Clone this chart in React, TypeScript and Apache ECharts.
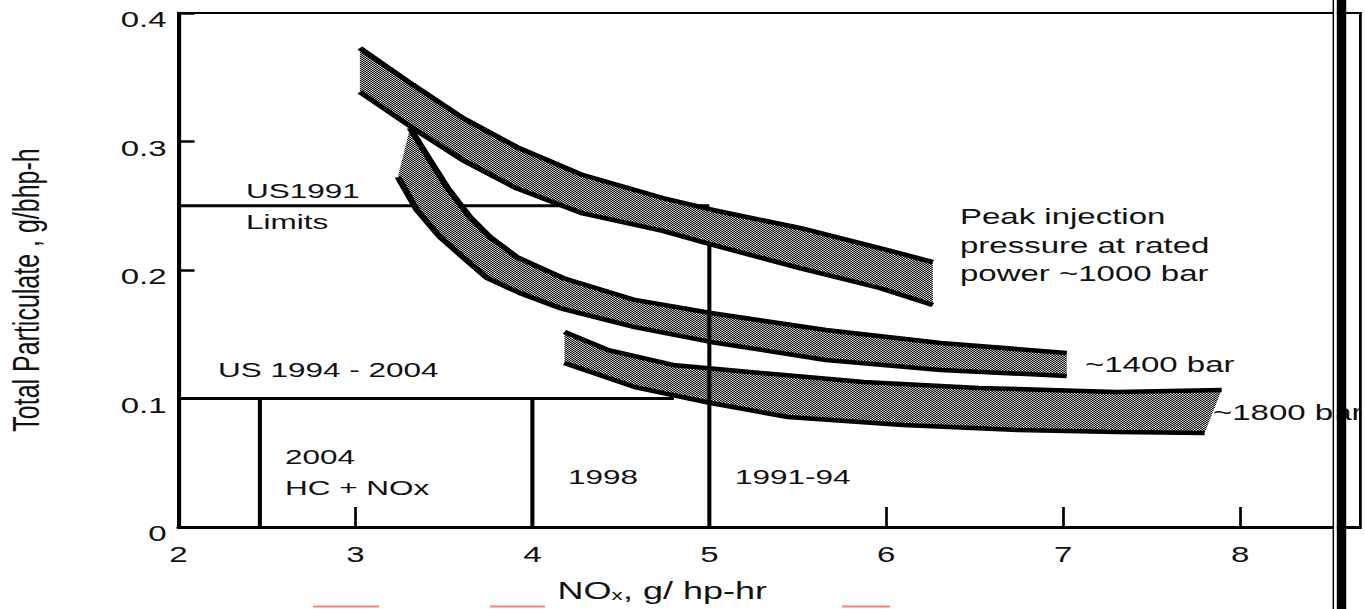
import React, { useEffect, useRef } from "react";
import * as echarts from "echarts";

// The reference picture is stretched horizontally; the chart is drawn in a
// narrower box and stretched back with CSS.
const S = 1.5;
const W = 1365 / S;
const H = 609;
const FONT = "'Liberation Sans', Arial, Helvetica, sans-serif";

const xTicks = [2, 3, 4, 5, 6, 7, 8];
const yTicks = [0, 0.1, 0.2, 0.3, 0.4];

// ~1000 bar band
const band1000Upper: number[][] = [
  [3.025, 0.3728], [3.325, 0.344], [3.607, 0.3183], [3.912, 0.2957], [4.285, 0.2739],
  [4.737, 0.256], [5.02, 0.2467], [5.511, 0.2327], [5.963, 0.2171], [6.263, 0.2062],
];
const band1000Lower: number[][] = [
  [3.025, 0.3385], [3.325, 0.3105], [3.607, 0.2855], [3.912, 0.2635], [4.285, 0.244],
  [4.737, 0.2305], [5.02, 0.2195], [5.511, 0.2015], [5.963, 0.186], [6.263, 0.1728],
];
// ~1400 bar band
const band1400Upper: number[][] = [
  [3.308, 0.3105], [3.421, 0.2856], [3.517, 0.2646], [3.647, 0.2412], [3.76, 0.2257],
  [3.912, 0.2101], [4.172, 0.1938], [4.579, 0.1767], [5.008, 0.1665], [5.658, 0.1533],
  [6.308, 0.1432], [7.02, 0.1354],
];
const band1400Lower: number[][] = [
  [3.24, 0.2724], [3.347, 0.2467], [3.477, 0.2257], [3.607, 0.2101], [3.743, 0.1938],
  [3.929, 0.1821], [4.155, 0.1704], [4.579, 0.1556], [5.008, 0.144], [5.658, 0.13],
  [6.308, 0.1222], [7.02, 0.1175],
];
// ~1800 bar band
const band1800Upper: number[][] = [
  [4.181, 0.1518], [4.429, 0.1377], [4.794, 0.1261], [5.229, 0.1206], [5.873, 0.1128],
  [6.523, 0.1082], [7.302, 0.1051], [7.895, 0.1066],
];
const band1800Lower: number[][] = [
  [4.181, 0.1276], [4.579, 0.1089], [5.008, 0.0965], [5.444, 0.0856], [6.093, 0.0794],
  [6.743, 0.0755], [7.302, 0.0739], [7.799, 0.0732],
];

// emission limit lines
const limitUS1991: number[][] = [[2, 0.25], [5, 0.25]];
const limitUS1994: number[][] = [[2, 0.1], [4.8, 0.1]];
const nox2004: number[][] = [[2.46, 0], [2.46, 0.1]];
const nox1998: number[][] = [[4, 0], [4, 0.1]];
const nox1991: number[][] = [[5, 0], [5, 0.219]];

function makePattern() {
  const c = document.createElement("canvas");
  c.width = 2;
  c.height = 2;
  const ctx = c.getContext("2d");
  if (ctx) {
    ctx.fillStyle = "#d4d4d4";
    ctx.fillRect(0, 0, 2, 2);
    ctx.fillStyle = "#000000";
    ctx.fillRect(0, 0, 1, 1);
    ctx.fillRect(1, 1, 1, 1);
  }
  return { image: c, repeat: "repeat" };
}

function bandFill(name: string, upper: number[][], lower: number[][], pattern: any) {
  const poly = upper.concat(lower.slice().reverse());
  return {
    type: "custom",
    name,
    data: poly,
    encode: { x: 0, y: 1 },
    z: 3,
    silent: true,
    renderItem: (params: any, api: any) => {
      if (params.dataIndex !== 0) return null;
      const pts = poly.map((p) => api.coord(p));
      return {
        type: "polygon",
        shape: { points: pts },
        style: { fill: pattern, stroke: null, lineWidth: 0 },
      };
    },
  };
}

function edge(data: number[][], width = 4.5, z = 4) {
  return {
    type: "line",
    data,
    symbol: "none",
    silent: true,
    z,
    lineStyle: { color: "#000", width },
  };
}

function txt(text: string, x: number, y: number, size = 22, extra: any = {}) {
  return {
    type: "text",
    x,
    y,
    z: 50,
    silent: true,
    style: {
      text,
      fontSize: size,
      fontFamily: FONT,
      fill: "#111",
      align: "left",
      verticalAlign: "middle",
      textAlign: "left",
      textVerticalAlign: "middle",
      ...extra,
    },
  };
}

export default function App() {
  const ref = useRef<HTMLDivElement>(null);
  useEffect(() => {
    if (!ref.current) return;
    const chart = echarts.init(ref.current, null, { renderer: "svg" });
    const pattern = makePattern();
    const o = (px: number) => px / S; // outer px -> inner px
    chart.setOption({
      animation: false,
      backgroundColor: "#fff",
      grid: {
        left: o(178.5),
        right: W - o(1360.5),
        top: 13,
        bottom: H - 527,
        show: true,
        borderColor: "#000",
        borderWidth: 2,
        containLabel: false,
        outerBoundsMode: "none",
      },
      xAxis: {
        type: "value",
        min: 2,
        max: 8.68,
        interval: 1,
        axisLine: { show: true, onZero: false, lineStyle: { color: "#000", width: 3 } },
        axisTick: {
          show: true,
          inside: true,
          length: 20,
          customValues: xTicks,
          lineStyle: { color: "#000", width: 1.8 },
        },
        axisLabel: {
          show: true,
          margin: 17,
          fontSize: 22,
          color: "#111",
          fontFamily: FONT,
          customValues: xTicks,
        },
        splitLine: { show: false },
        name: "NO{sub|x}, g/ hp-hr",
        nameLocation: "middle",
        nameGap: 51,
        nameTextStyle: {
          fontSize: 24,
          color: "#111",
          fontFamily: FONT,
          padding: [0, 143, 0, 0],
          rich: {
            sub: { fontSize: 15, color: "#111", fontFamily: FONT, verticalAlign: "bottom" },
          },
        },
      },
      yAxis: {
        type: "value",
        min: 0,
        max: 0.4,
        interval: 0.1,
        axisLine: { show: true, onZero: false, lineStyle: { color: "#000", width: 2.5 } },
        axisTick: {
          show: true,
          inside: true,
          length: 10.7,
          customValues: yTicks,
          lineStyle: { color: "#000", width: 2.5 },
        },
        axisLabel: {
          show: true,
          margin: 8,
          color: "#111",
          customValues: yTicks,
          formatter: (v: number) => `{t|${Math.round(v * 10) / 10}}`,
          rich: {
            t: { fontSize: 22, color: "#111", fontFamily: FONT, padding: [14, 0, 0, 0] },
          },
        },
        splitLine: { show: false },
        name: "Total Particulate , g/bhp-h",
        nameLocation: "middle",
        nameRotate: 90,
        nameGap: 89,
        nameTextStyle: {
          fontSize: 25,
          color: "#111",
          fontFamily: FONT,
          padding: [0, 40, 0, 0],
        },
      },
      series: [
        edge(limitUS1991, 3, 2),
        edge(limitUS1994, 3, 2),
        edge(nox2004, 2.7, 2),
        edge(nox1998, 2.7, 2),
        bandFill("~1000 bar", band1000Upper, band1000Lower, pattern),
        bandFill("~1400 bar", band1400Upper, band1400Lower, pattern),
        bandFill("~1800 bar", band1800Upper, band1800Lower, pattern),
        edge(band1000Upper),
        edge(band1000Lower),
        edge(band1400Upper),
        edge(band1400Lower),
        edge(band1800Upper),
        edge(band1800Lower),
        edge(nox1991, 2.7, 5),
      ],
      graphic: {
        elements: [
          txt("US1991", o(246), 191, 21),
          txt("Limits", o(246), 222, 21),
          txt("US 1994 - 2004", o(218), 370, 21),
          txt("2004", o(285), 457, 21),
          txt("HC + NOx", o(285), 488, 21),
          txt("1998", o(568), 477, 21),
          txt("1991-94", o(735), 477, 21),
          txt("Peak injection\npressure at rated\npower ~1000 bar", o(960), 245.5, 22, {
            lineHeight: 28.5,
          }),
          txt("~1400 bar", o(1085), 365, 22),
          txt("~1800 bar", o(1213), 413, 22),
          // scan artefacts at the right edge
          { type: "rect", z: 99, silent: true, shape: { x: o(1361.8), y: 0, width: 10, height: H }, style: { fill: "#fff" } },
          { type: "rect", z: 100, silent: true, shape: { x: o(1332.6), y: 0, width: o(1.6), height: H }, style: { fill: "#000" } },
          { type: "rect", z: 100, silent: true, shape: { x: o(1334.2), y: 0, width: o(2.6), height: H }, style: { fill: "#fff" } },
          { type: "rect", z: 100, silent: true, shape: { x: o(1336.8), y: 0, width: o(9.4), height: H }, style: { fill: "#000" } },
          // spell-check underlines
          { type: "line", z: 100, silent: true, shape: { x1: o(313), y1: 606.5, x2: o(379), y2: 606.5 }, style: { stroke: "#ff8080", lineWidth: 2 } },
          { type: "line", z: 100, silent: true, shape: { x1: o(490), y1: 606.5, x2: o(545), y2: 606.5 }, style: { stroke: "#ff8080", lineWidth: 2 } },
          { type: "line", z: 100, silent: true, shape: { x1: o(842), y1: 606.5, x2: o(890), y2: 606.5 }, style: { stroke: "#ff8080", lineWidth: 2 } },
        ],
      },
    });
    return () => chart.dispose();
  }, []);

  return (
    <div
      style={{
        position: "fixed",
        left: 0,
        top: 0,
        width: 1365,
        height: H,
        overflow: "hidden",
        background: "#fff",
      }}
    >
      <div
        ref={ref}
        style={{ width: W, height: H, transform: `scaleX(${S})`, transformOrigin: "0 0" }}
      />
    </div>
  );
}
